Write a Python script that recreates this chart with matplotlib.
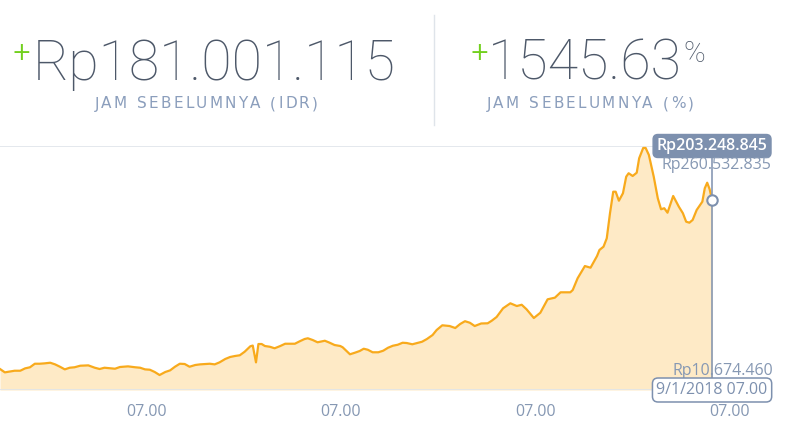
import matplotlib
matplotlib.use('Agg')
from matplotlib import pyplot as plt

# hours relative to the first "07.00" tick, price in million Rp
hours = [-18.1, -17.5, -16.3, -15.6, -15.0, -14.4, -13.8, -13.2, -12.6, -11.9,
         -11.3, -10.7, -10.1, -9.5, -8.9, -8.2, -7.2, -6.4, -5.8, -5.2,
         -3.9, -3.3, -2.3, -1.4, -0.8, -0.2, 0.4, 1.0, 1.6, 2.3,
         2.9, 3.5, 4.1, 4.7, 5.3, 6.0, 6.6, 7.8, 8.4, 9.0,
         9.7, 10.3, 10.9, 11.5, 12.1, 12.8, 13.1, 13.5, 13.8, 14.2,
         14.6, 15.2, 15.8, 16.5, 17.1, 18.3, 18.9, 19.5, 19.9, 20.5,
         21.1, 22.0, 22.6, 23.2, 23.9, 24.2, 25.1, 25.7, 26.3, 26.8,
         27.3, 27.9, 28.6, 29.2, 29.8, 30.4, 31.0, 31.6, 32.1, 32.8,
         33.4, 34.0, 34.6, 35.3, 35.8, 36.5, 37.4, 38.1, 38.7, 39.3,
         39.9, 40.5, 41.3, 42.1, 42.6, 43.2, 44.0, 44.9, 45.7, 46.3,
         46.9, 47.8, 48.6, 49.5, 50.4, 51.1, 52.3, 52.6, 53.2, 54.1,
         54.8, 55.6, 55.9, 56.4, 56.8, 57.2, 57.6, 57.9, 58.3, 58.8,
         59.2, 59.5, 60.0, 60.5, 60.8, 61.3, 61.6, 62.0, 62.6, 63.1,
         63.5, 63.9, 64.3, 65.0, 65.7, 66.2, 66.6, 67.0, 67.4, 67.9,
         68.6, 68.9, 69.2, 69.5, 69.8]
price = [17.3, 13.6, 15.4, 15.4, 18.0, 19.2, 23.1, 23.1, 23.5, 24.2,
         22.4, 19.8, 16.9, 18.7, 19.2, 20.9, 21.3, 18.7, 17.3, 18.7,
         17.6, 19.5, 20.2, 19.2, 18.7, 16.9, 16.5, 14.0, 10.674, 14.0,
         15.8, 19.8, 23.1, 22.8, 19.8, 21.7, 22.4, 23.1, 22.4, 24.6,
         28.3, 30.5, 31.6, 32.4, 36.3, 42.3, 43.1, 24.6, 44.8, 44.8,
         42.6, 41.8, 40.1, 42.6, 45.1, 45.1, 47.8, 50.3, 51.1, 49.2,
         46.7, 48.4, 46.2, 43.7, 42.6, 41.2, 33.5, 35.2, 37.1, 39.6,
         38.5, 35.7, 35.7, 37.4, 40.7, 42.9, 44.0, 46.2, 45.9, 44.5,
         45.9, 47.3, 50.3, 54.7, 60.2, 65.4, 64.6, 62.4, 66.8, 69.9,
         68.2, 64.6, 67.4, 67.6, 70.4, 74.5, 84.1, 89.6, 86.6, 88.0,
         83.0, 73.4, 79.2, 94.0, 95.8, 101.7, 101.7, 104.2, 117.1, 130.6,
         128.8, 141.6, 148.3, 151.9, 161.1, 188.7, 212.4, 212.4, 202.5, 210.7,
         228.9, 232.7, 229.7, 233.3, 249.2, 260.533, 260.533, 252.8, 228.9, 205.2,
         193.1, 194.2, 189.3, 207.7, 195.9, 188.7, 179.4, 178.3, 181.3, 192.3,
         201.4, 216.2, 222.3, 215.1, 203.249]
tick_hours = [0, 24, 48, 72]
tick_labels = ["07.00", "07.00", "07.00", "07.00"]

header_value = "Rp181.001.115"
header_pct = "1545.63"
sub_idr = "JAM SEBELUMNYA (IDR)"
sub_pct = "JAM SEBELUMNYA (%)"
tip_now = "Rp203.248.845"
tip_max = "Rp260.532.835"
tip_min = "Rp10.674.460"
tip_date = "9/1/2018 07.00"

LINE = "#f8aa1c"
FILL = "#feeac6"
GRID = "#dfe4ea"
BLUE = "#7d90ae"
LABEL = "#8698b3"
SUB = "#8b9ebc"
DARK = "#4d5869"
GREEN = "#72d01e"

W, H = 787, 436
fig = plt.figure(figsize=(W / 100, H / 100), dpi=100)


def fx(px):
    return px / W


def fy(py):
    return 1 - py / H


def spaced_text(cx, cy, s, size, color, track):
    # draw letter by letter so the caption gets its wide tracking
    r = fig.canvas.get_renderer()
    widths = []
    for ch in s:
        t = fig.text(0, 0, ch if ch != ' ' else 'n', fontsize=size)
        w = t.get_window_extent(r).width
        if ch == ' ':
            w *= 0.6
        widths.append(w)
        t.remove()
    total = sum(widths) + track * (len(s) - 1)
    x = cx - total / 2
    for ch, w in zip(s, widths):
        if ch != ' ':
            fig.text(x / W, cy, ch, fontsize=size, color=color, ha='left', va='center')
        x += w + track


ax = fig.add_axes([0, fy(390), 1, (390 - 146) / H])
ymin, ymax = -5.8, 262.7
ax.set_xlim(-18.1, 79.05)
ax.set_ylim(ymin, ymax)
for s in ax.spines.values():
    s.set_visible(False)
ax.set_yticks([])
ax.set_xticks(tick_hours)
ax.set_xticklabels(tick_labels)
ax.tick_params(axis='x', length=0, pad=10, labelsize=11.5, labelcolor=LABEL)
for t in ax.get_xticklabels():
    t.set_family('Open Sans')

ax.fill_between(hours, price, ymin, color=FILL, lw=0, zorder=1)
ax.plot(hours, price, color=LINE, lw=1.6, zorder=3, solid_joinstyle='round')
ax.hlines([ymin + 0.3, ymax - 0.3], hours[0], hours[-1], color=GRID, lw=1.2, zorder=2)

xl, yl = hours[-1], price[-1]
ax.vlines(xl, ymin, ymax, color=BLUE, lw=1.1, zorder=4)
ax.plot([xl], [yl], 'o', ms=7.5, mfc='white', mec=BLUE, mew=1.5, zorder=6)

ax.annotate(tip_now, (xl, ymax), xytext=(0, 0), textcoords='offset points',
            ha='center', va='center', color='white', fontsize=11.5,
            family='Open Sans', weight='semibold', zorder=7,
            bbox=dict(boxstyle='round,pad=0.22,rounding_size=0.3', fc=BLUE, ec=BLUE))
ax.annotate(tip_max, (xl, ymax), xytext=(43, -14), textcoords='offset points',
            ha='right', va='center', color=LABEL, fontsize=11.5,
            family='Open Sans', zorder=7)
ax.annotate(tip_min, (xl, ymin), xytext=(44, 14), textcoords='offset points',
            ha='right', va='center', color=LABEL, fontsize=11.5,
            family='Open Sans', zorder=7)
ax.annotate(tip_date, (xl, ymin), xytext=(0, 0), textcoords='offset points',
            ha='center', va='center', color=BLUE, fontsize=11.5,
            family='Open Sans', zorder=7,
            bbox=dict(boxstyle='round,pad=0.25,rounding_size=0.35', fc='white', ec=BLUE, lw=1.1))

# header
fig.add_artist(plt.Line2D([fx(434), fx(434)], [fy(15), fy(125)], color=GRID, lw=1))
fig.text(fx(12), fy(41), "+", color=GREEN, fontsize=17, ha='left', va='top',
         family='DejaVu Sans')
fig.text(fx(33), fy(80), header_value, color=DARK, fontsize=40, family='Roboto',
         weight='light', ha='left', va='baseline')
fig.text(fx(469), fy(41), "+", color=GREEN, fontsize=17, ha='left', va='top',
         family='DejaVu Sans')
pct = fig.text(fx(488), fy(80), header_pct, color=DARK, fontsize=40, family='Roboto',
               weight='light', ha='left', va='baseline')
fig.canvas.draw()
bb = pct.get_window_extent()
fig.text((bb.x1 + 1) / W, fy(40), "%", color=DARK, fontsize=21, family='Roboto',
         weight='light', ha='left', va='top')
spaced_text(206, fy(104), sub_idr, 11, SUB, 2.2)
spaced_text(590, fy(104), sub_pct, 11, SUB, 2.2)

fig.savefig('out.png', dpi=100)
